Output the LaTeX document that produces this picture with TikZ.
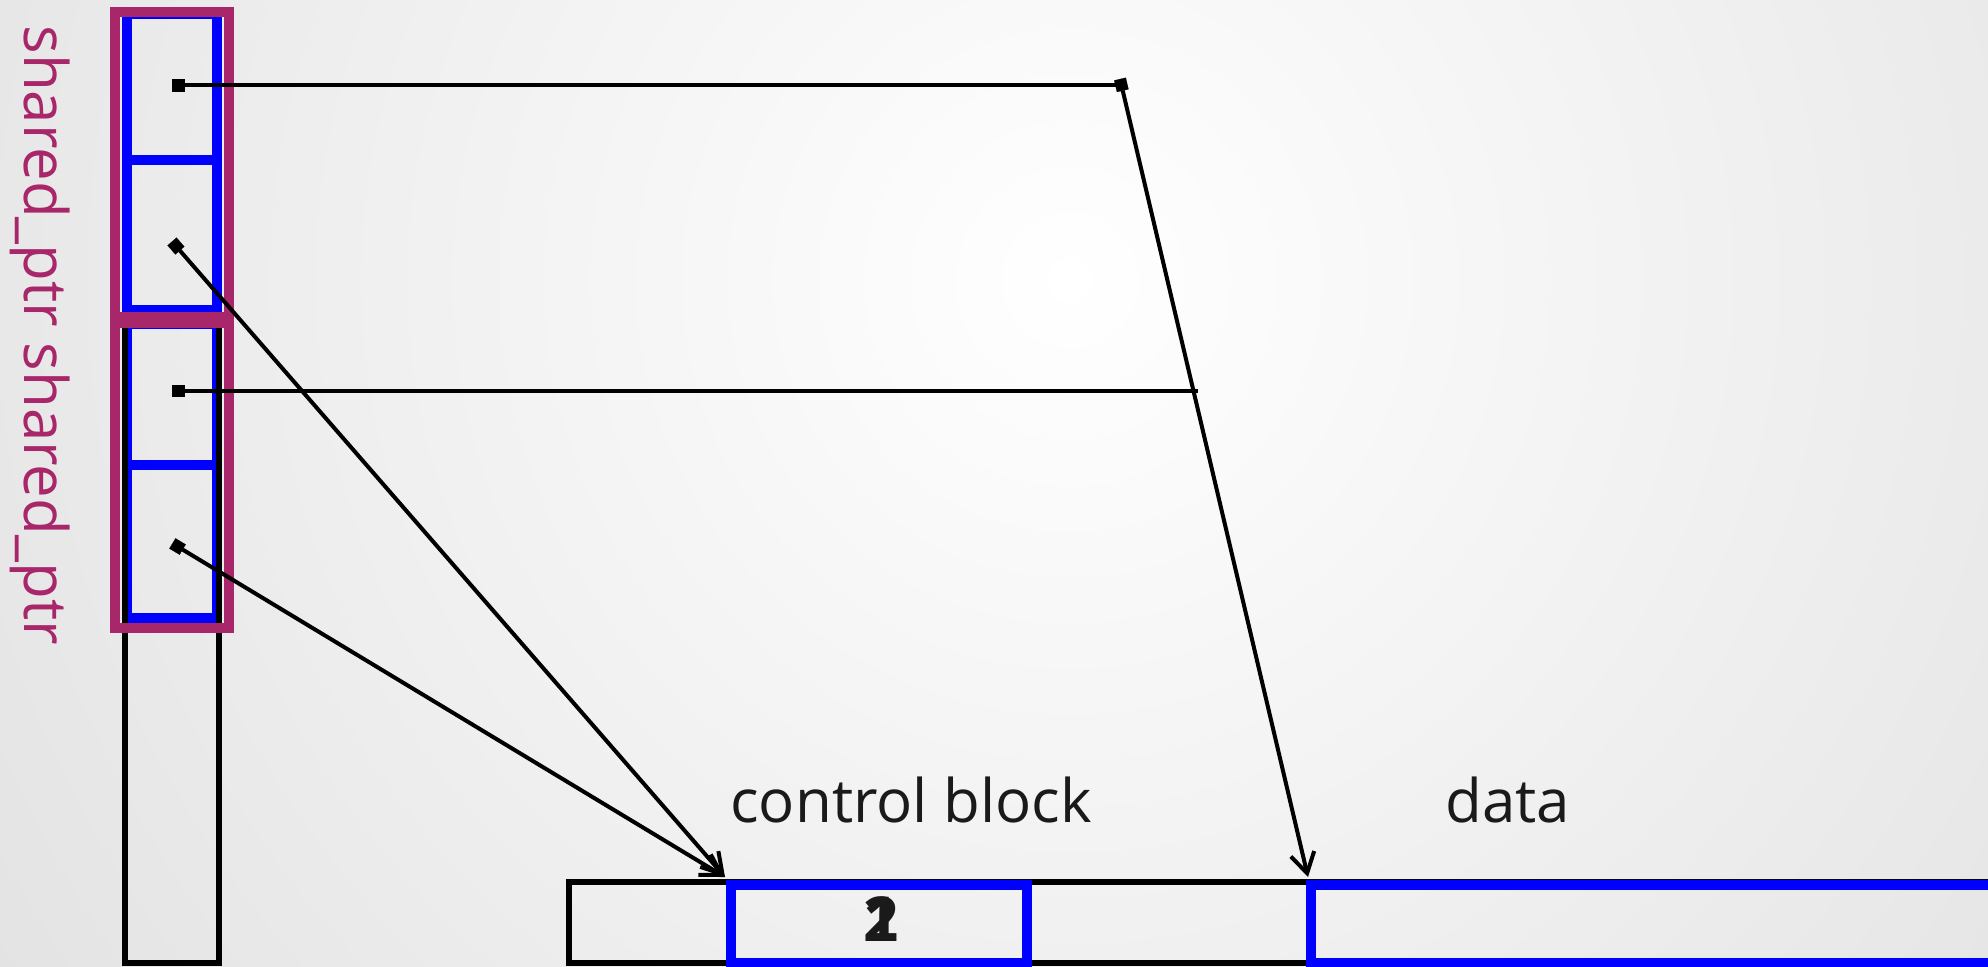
\documentclass[tikz,border=0pt]{standalone}
\usepackage{fontspec}
\setmainfont{Open Sans}
\usetikzlibrary{arrows.meta}
\definecolor{mag}{RGB}{168,38,106}
\definecolor{bblue}{RGB}{0,0,255}
\definecolor{ink}{RGB}{26,26,26}
\begin{document}
\begin{tikzpicture}[x=0.5pt,y=-0.5pt,
  magbox/.style={draw=mag,line width=5pt},
  bluebox/.style={draw=bblue,line width=5pt},
  blkbox/.style={draw=black,line width=3pt},
  sqstart/.style={line width=2pt,{Square[length=6pt,width=6pt,line width=0.1pt]}-},
  ptr/.style={line width=2pt,{Square[length=6pt,width=6pt,line width=0.1pt]}-{Straight Barb[length=10pt,width=12pt]}},
  lbl/.style={font=\fontsize{30}{36}\selectfont, text=ink, inner sep=0pt},
  num/.style={font=\bfseries\fontsize{31}{36}\selectfont, text=ink, inner sep=0pt}
]
\useasboundingbox (0,0) rectangle (1988,966);
\begin{scope}
\clip (0,0) rectangle (1988,966);
\shade[inner color=white, outer color=black!12] (1070,280) circle (1400);
% lower blue cells
\draw[bluebox] (126.8,324) rectangle (216.8,618);
\draw[bluebox] (126.8,465) -- (216.8,465);
% black column
\draw[blkbox] (125,12) rectangle (219,963);
% upper blue cells
\draw[bluebox] (126.8,14) rectangle (216.8,310);
\draw[bluebox] (126.8,160) -- (216.8,160);
% magenta shared_ptr boxes
\draw[magbox] (115.2,11.7) rectangle (228.7,317);
\draw[magbox] (115.2,323) rectangle (228.7,628);
% bottom memory row
\draw[blkbox] (569,882) rectangle (2100,963);
\draw[bluebox] (730.5,884.5) rectangle (1026.5,963);
\draw[bluebox] (1311,884.5) rectangle (2100,963);
% labels
\node[lbl, rotate=-90, anchor=base west, text=mag] (sp) at (25,25) {shared\_ptr shared\_ptr};
\node[lbl, anchor=base west] (cbl) at (730,822) {control block};
\node[lbl, anchor=base west] (dl) at (1445,822) {data};
\node[num] (n1) at (881,919) {1};
\node[num] (n2) at (881,919) {2};
% pointer coordinates
\coordinate (d1) at (172,85);
\coordinate (d2) at (172,241.5);
\coordinate (d3) at (172,390.5);
\coordinate (d4) at (172.4,543.4);
\coordinate (c1) at (1121.5,85);
\coordinate (c1s) at (1120,79);
\coordinate (e3) at (1197.5,390.5);
\coordinate (cb) at (725,877);
\coordinate (dt) at (1308,877);
% connectors
\draw[sqstart] (d1) -- (c1);
\draw[ptr] (c1s) -- (dt);
\draw[sqstart] (d3) -- (e3);
\draw[ptr] (d2) -- (cb);
\draw[ptr] (d4) -- (cb);
\end{scope}
\end{tikzpicture}
\end{document}
